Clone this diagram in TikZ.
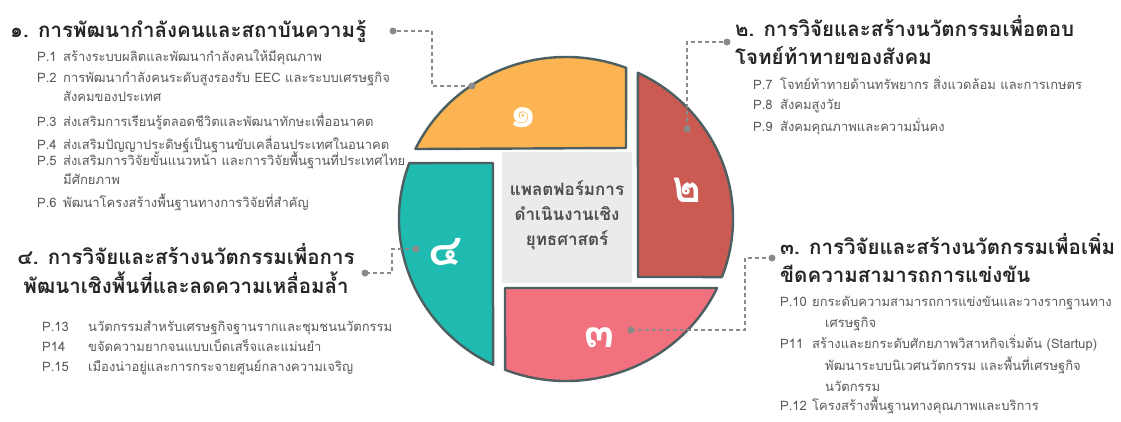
\documentclass[tikz,border=0pt]{standalone}
\usepackage{fontspec}
\setmainfont[Script=Thai]{Loma}
\usepackage{xcolor}
\usetikzlibrary{calc,positioning}
\definecolor{pieceone}{HTML}{FBB451}
\definecolor{piecetwo}{HTML}{CB5A52}
\definecolor{piecethree}{HTML}{F2717E}
\definecolor{piecefour}{HTML}{1FBBB1}
\definecolor{rim}{HTML}{4D5F60}
\definecolor{coregrey}{HTML}{E9EBEC}
\definecolor{coretxt}{HTML}{4D4D4D}
\definecolor{headtxt}{HTML}{262626}
\definecolor{bodytxt}{HTML}{595959}
\definecolor{linkgrey}{HTML}{8A8A8A}
\newcommand{\pitem}[3]{\makebox[#1][l]{#2}\begin{tabular}[t]{@{}l@{}}#3\end{tabular}}

\begin{document}
\begin{tikzpicture}[x=1pt,y=1pt,
	piece/.style={draw=rim, line width=2.4pt, line join=round},
	num/.style={text=white, font=\fontsize{44}{44}\selectfont\bfseries},
	head/.style={anchor=base west, inner sep=0pt, text=headtxt, font=\fontsize{20.5}{27}\selectfont\bfseries},
	pitem/.style={anchor=base west, inner sep=0pt, text=bodytxt, font=\fontsize{13}{18}\selectfont},
	link/.style={draw=linkgrey, line width=1.4pt, dash pattern=on 4pt off 3pt},
	dot/.style={fill=linkgrey}]
	\useasboundingbox (0,0) rectangle (1121,-421);
	\fill[white] (0,0) rectangle (1121,-421);
	\coordinate (o) at (566,-219);
	% centre and the four pieces
	\fill[coregrey] (502,-152) rectangle (632,-283);
	\draw[piece, fill=pieceone] (626,-148) -- ($(o)+(154.4:167 and 162)$) arc[start angle=154.4, end angle=68.9, x radius=167, y radius=162] -- cycle;
	\draw[piece, fill=piecetwo] (638,-277) -- ($(o)+(64.5:167 and 162)$) arc[start angle=64.5, end angle=-21, x radius=167, y radius=162] -- cycle;
	\draw[piece, fill=piecethree] (505,-288) -- ($(o)+(-25.2:167 and 162)$) arc[start angle=-25.2, end angle=-111.4, x radius=167, y radius=162] -- cycle;
	\draw[piece, fill=piecefour] (493,-163) -- ($(o)+(159.8:167 and 162)$) arc[start angle=159.8, end angle=244.1, x radius=167, y radius=162] -- cycle;
	\node[text=coretxt, align=center, font=\fontsize{17}{25}\selectfont\bfseries] (core) at (567,-215) {แพลตฟอร์มการ\\ดำเนินงานเชิง\\ยุทธศาสตร์};
	\node[num] (n1) at (523,-118) {๑};
	\node[num] (n2) at (687,-190) {๒};
	\node[num] (n3) at (600,-338) {๓};
	\node[num] (n4) at (445,-252) {๔};
	% connectors
	\coordinate (d1a) at (472,-86);
	\coordinate (d1b) at (393,-31);
	\coordinate (d2a) at (687,-129);
	\coordinate (d2b) at (727,-42);
	\coordinate (d3a) at (631,-330);
	\coordinate (d3b) at (772,-258);
	\coordinate (d4a) at (416,-249);
	\coordinate (d4b) at (365,-273);
	\draw[link] (d1a) -- ++(-40,0) |- (d1b);
	\draw[link] (d2a) |- (d2b);
	\draw[link] (d3a) -- ++(114,0) |- (d3b);
	\draw[link] (d4a) -- ++(-24,0) |- (d4b);
	\foreach \d in {d1a,d1b,d2a,d2b,d3a,d3b,d4a,d4b}
		\fill[dot] (\d) circle[radius=3.5];
	% titles
	\node[head] (t1) at (10,-37) {๑. การพัฒนากำลังคนและสถาบันความรู้};
	\node[head] (t2) at (735,-36) {\begin{tabular}[t]{@{}l@{}}๒. การวิจัยและสร้างนวัตกรรมเพื่อตอบ\\[1pt]โจทย์ท้าทายของสังคม\end{tabular}};
	\node[head] (t3) at (780,-254) {\begin{tabular}[t]{@{}l@{}}๓. การวิจัยและสร้างนวัตกรรมเพื่อเพิ่ม\\[1pt]ขีดความสามารถการแข่งขัน\end{tabular}};
	\node[head, anchor=base] (t4) at (186,-264) {\begin{tabular}[t]{@{}c@{}}๔. การวิจัยและสร้างนวัตกรรมเพื่อการ\\พัฒนาเชิงพื้นที่และลดความเหลื่อมล้ำ\end{tabular}};
	% items
	\node[pitem] (p1) at (37,-61) {\pitem{26pt}{P.1}{สร้างระบบผลิตและพัฒนากำลังคนให้มีคุณภาพ}};
	\node[pitem] (p2) at (37,-82) {\pitem{26pt}{P.2}{การพัฒนากำลังคนระดับสูงรองรับ EEC และระบบเศรษฐกิจ\\[1pt]สังคมของประเทศ}};
	\node[pitem] (p3) at (37,-126) {\pitem{26pt}{P.3}{ส่งเสริมการเรียนรู้ตลอดชีวิตและพัฒนาทักษะเพื่ออนาคต}};
	\node[pitem] (p4) at (37,-149) {\pitem{26pt}{P.4}{ส่งเสริมปัญญาประดิษฐ์เป็นฐานขับเคลื่อนประเทศในอนาคต}};
	\node[pitem] (p5) at (37,-165) {\pitem{26pt}{P.5}{ส่งเสริมการวิจัยขั้นแนวหน้า และการวิจัยพื้นฐานที่ประเทศไทย\\[1pt]มีศักยภาพ}};
	\node[pitem] (p6) at (37,-207) {\pitem{26pt}{P.6}{พัฒนาโครงสร้างพื้นฐานทางการวิจัยที่สำคัญ}};
	\node[pitem] (p7) at (753,-89) {\pitem{27pt}{P.7}{โจทย์ท้าทายด้านทรัพยากร สิ่งแวดล้อม และการเกษตร}};
	\node[pitem] (p8) at (753,-109) {\pitem{27pt}{P.8}{สังคมสูงวัย}};
	\node[pitem] (p9) at (753,-131) {\pitem{27pt}{P.9}{สังคมคุณภาพและความมั่นคง}};
	\node[pitem] (p10) at (780,-306) {\pitem{32pt}{P.10}{ยกระดับความสามารถการแข่งขันและวางรากฐานทาง\\[3pt]\hspace*{13pt}เศรษฐกิจ}};
	\node[pitem] (p11) at (780,-348) {\pitem{32pt}{P11}{สร้างและยกระดับศักยภาพวิสาหกิจเริ่มต้น (Startup)\\[3pt]\hspace*{13pt}พัฒนาระบบนิเวศนวัตกรรม และพื้นที่เศรษฐกิจ\\[3pt]\hspace*{13pt}นวัตกรรม}};
	\node[pitem] (p12) at (780,-410) {\pitem{32pt}{P.12}{โครงสร้างพื้นฐานทางคุณภาพและบริการ}};
	\node[pitem] (p13) at (42,-331) {\pitem{46pt}{P.13}{นวัตกรรมสำหรับเศรษฐกิจฐานรากและชุมชนนวัตกรรม}};
	\node[pitem] (p14) at (42,-351) {\pitem{46pt}{P14}{ขจัดความยากจนแบบเบ็ดเสร็จและแม่นยำ}};
	\node[pitem] (p15) at (42,-371) {\pitem{46pt}{P.15}{เมืองน่าอยู่และการกระจายศูนย์กลางความเจริญ}};
\end{tikzpicture}
\end{document}
